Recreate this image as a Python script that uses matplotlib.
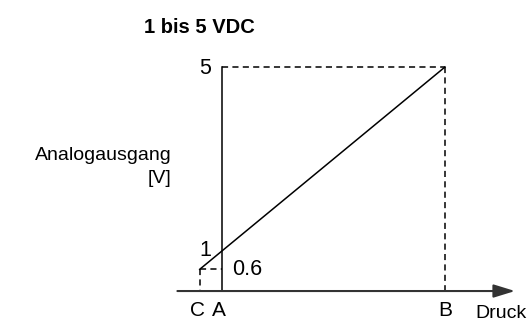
import matplotlib
matplotlib.use("Agg")
import matplotlib.pyplot as plt

plt.rcParams['font.family'] = ['Liberation Sans', 'DejaVu Sans']

# pressure positions (A = range start, B = range end, C = extrapolated zero point)
pos_C, pos_A, pos_B = -0.1, 0.0, 1.0
# output voltages
v_C, v_low, v_high = 0.6, 1.0, 5.0
v_axis = 0.128  # level where the pressure axis is drawn
x_axis_start, x_axis_end = -0.20, 1.314

title = "1 bis 5 VDC"
ylabel_lines = ["Analogausgang", "[V]"]
xlabel = "Druck"

fig = plt.figure(figsize=(5.28, 3.24), dpi=100)
ax = fig.add_axes([0, 0, 1, 1])
ax.set_xlim(-0.9955, 1.3722)
ax.set_ylim(-0.589, 6.457)
ax.axis("off")

lw = 1.1
dash = (0, (4, 2.8))

# characteristic line C -> B
ax.plot([pos_C, pos_B], [v_C, v_high], color="black", lw=lw)
# vertical output axis at A
ax.plot([pos_A, pos_A], [v_axis, v_high], color="black", lw=lw)
# dashed helper lines
ax.plot([pos_A, pos_B], [v_high, v_high], color="black", lw=lw, linestyle=dash)
ax.plot([pos_B, pos_B], [v_high, v_axis], color="black", lw=lw, linestyle=dash)
ax.plot([pos_C, pos_A], [v_C, v_C], color="black", lw=lw, linestyle=dash)
ax.plot([pos_C, pos_C], [v_C, v_axis], color="black", lw=lw, linestyle=dash)

# pressure axis with arrow
ax.annotate("", xy=(x_axis_end, v_axis), xytext=(x_axis_start, v_axis),
            arrowprops=dict(arrowstyle="-|>,head_length=1.3,head_width=0.4",
                            mutation_scale=10, color="#333333", lw=1.5,
                            shrinkA=0, shrinkB=0))

# value labels
num_size = 15.5
ax.annotate(f"{v_high:g}", (pos_A, v_high), xytext=(-8, -1), textcoords="offset points",
            ha="right", va="center", fontsize=num_size)
ax.annotate(f"{v_low:g}", (pos_A, v_low), xytext=(-8, 0), textcoords="offset points",
            ha="right", va="center", fontsize=num_size)
ax.annotate(f"{v_C:g}", (pos_A, v_C), xytext=(7, 0), textcoords="offset points",
            ha="left", va="center", fontsize=num_size)

for name, p, dx in [("C", pos_C, -1.5), ("A", pos_A, -2), ("B", pos_B, 0)]:
    ax.annotate(name, (p, v_axis), xytext=(dx, -14), textcoords="offset points",
                ha="center", va="center", fontsize=15)

ax.text(475 / 528, 1 - 314 / 324, xlabel, transform=ax.transAxes,
        ha="left", va="center", fontsize=14)
ax.text(172 / 528, 1 - 155.5 / 324, ylabel_lines[0], transform=ax.transAxes,
        ha="right", va="center", fontsize=14)
ax.text(171 / 528, 1 - 178.5 / 324, ylabel_lines[1], transform=ax.transAxes,
        ha="right", va="center", fontsize=14)
ax.text(199 / 528, 1 - 27.5 / 324, title, transform=ax.transAxes,
        ha="center", va="center", fontsize=14.5, fontweight="bold")

fig.savefig("out.png", dpi=100)
